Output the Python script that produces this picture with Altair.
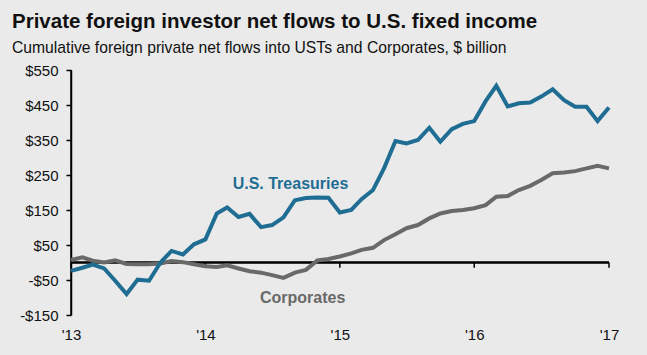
import altair as alt
import pandas as pd

# ---- data ----
months = [d.strftime("%Y-%m-%dT00:00:00") for d in pd.date_range("2013-01-01", periods=49, freq="MS")]
treasuries = [-24, -15, -6, -17, -52, -90, -49, -52, 0, 33, 23, 52, 66, 140, 157, 130, 139, 101, 107, 129,
              178, 184, 186, 185, 143, 150, 181, 207, 269, 347, 340, 350, 385, 345, 381, 396, 404, 461,
              505, 446, 455, 457, 474, 495, 464, 445, 445, 404, 443]
corporates = [7, 15, 5, 0, 6, -4, -5, -5, -3, 4, 1, -5, -11, -13, -8, -17, -25, -29, -36, -44, -29, -21,
              6, 10, 17, 26, 36, 42, 64, 81, 98, 107, 126, 140, 147, 150, 155, 164, 188, 190, 207, 219,
              236, 255, 257, 261, 269, 276, 269]
series_names = ["U.S. Treasuries", "Corporates"]
year_ticks = ["2013-01-01T00:00:00", "2014-01-01T00:00:00", "2015-01-01T00:00:00",
              "2016-01-01T00:00:00", "2017-01-01T00:00:00"]
y_ticks = [-150, -50, 50, 150, 250, 350, 450, 550]
label_text = ["U.S. Treasuries", "Corporates"]
label_date = ["2014-08-20T00:00:00", "2014-09-22T00:00:00"]
label_value = [224, -101]
title_text = "Private foreign investor net flows to U.S. fixed income"
subtitle_text = "Cumulative foreign private net flows into USTs and Corporates, $ billion"

FONT = "Liberation Sans"
BLUE = "#1f6d93"
GRAY = "#696969"

df_t = pd.DataFrame({"date": months, "value": treasuries, "series": series_names[0]})
df_c = pd.DataFrame({"date": months, "value": corporates, "series": series_names[1]})
df_ticks = pd.DataFrame({"date": year_ticks})
df_labels = pd.DataFrame({"date": label_date, "value": label_value, "text": label_text})

x_scale = alt.Scale(domain=[alt.DateTime(year=2013, month=1, date=1),
                            alt.DateTime(year=2017, month=1, date=1)], nice=False)
y_scale = alt.Scale(domain=[-150, 550], nice=False, zero=False)
color_scale = alt.Scale(domain=series_names, range=[BLUE, GRAY])

x_axis = alt.Axis(title=None, domain=False, ticks=False, grid=False,
                  values=[alt.DateTime(year=y, month=1, date=1) for y in range(2013, 2018)],
                  labelExpr="\"'\" + timeFormat(datum.value, '%y')",
                  labelFontSize=15, labelFont=FONT, labelColor="#111111",
                  labelPadding=12, labelFlush=False, labelOverlap=False)
y_axis = alt.Axis(title=None, values=y_ticks, grid=False, domain=True, ticks=True,
                  labelExpr="datum.value < 0 ? '-$' + abs(datum.value) : '$' + datum.value",
                  labelFontSize=15, labelFont=FONT, labelColor="#111111",
                  labelOverlap=False, labelFlush=False,
                  domainColor="#000000", domainWidth=1.5, domainOpacity=1,
                  tickColor="#000000", tickOpacity=1,
                  tickWidth=1.5, tickSize=5, labelPadding=8)

x_enc = alt.X("date:T", scale=x_scale, axis=x_axis)
y_enc = alt.Y("value:Q", scale=y_scale, axis=y_axis)

y_axis_line = alt.Chart(df_ticks.head(1)).mark_rule(color="#000000", strokeWidth=1.5).encode(
    x=x_enc)
zero_line = alt.Chart(df_ticks).mark_rule(color="#000000", strokeWidth=1.5).encode(
    y=alt.datum(0, scale=y_scale, axis=y_axis))
year_tick_marks = alt.Chart(df_ticks).mark_rule(color="#000000", strokeWidth=1.5).encode(
    x=x_enc, y=alt.datum(0, scale=y_scale, axis=y_axis), y2=alt.datum(-15))

line_c = alt.Chart(df_c).mark_line(strokeWidth=4, strokeJoin="miter").encode(
    x=x_enc, y=y_enc, color=alt.Color("series:N", scale=color_scale, legend=None))
line_t = alt.Chart(df_t).mark_line(strokeWidth=4, strokeJoin="miter").encode(
    x=x_enc, y=y_enc, color=alt.Color("series:N", scale=color_scale, legend=None))

labels = alt.Chart(df_labels).mark_text(font=FONT, fontWeight="bold", fontSize=16,
                                        align="center", baseline="middle").encode(
    x=x_enc, y=y_enc, text="text:N",
    color=alt.Color("text:N", scale=color_scale, legend=None))

title = alt.Chart(pd.DataFrame({"t": [title_text]})).mark_text(
    font=FONT, fontWeight="bold", fontSize=20.5, align="left", baseline="alphabetic",
    color="#111111").encode(text="t:N", x=alt.value(-59), y=alt.value(-42))
subtitle = alt.Chart(pd.DataFrame({"t": [subtitle_text]})).mark_text(
    font=FONT, fontSize=15.7, align="left", baseline="alphabetic",
    color="#111111").encode(text="t:N", x=alt.value(-59), y=alt.value(-17.5))

chart = alt.layer(y_axis_line, zero_line, year_tick_marks, line_c, line_t, labels, title, subtitle).properties(
    width=538, height=245,
    autosize=alt.AutoSizeParams(type="none"),
    padding={"left": 71, "top": 70, "right": 38, "bottom": 40},
    background="#eaeaea",
).configure_view(stroke=None).configure_axisY(
    domain=True, domainColor="#000000", domainWidth=1.5, ticks=True,
    tickColor="#000000", tickWidth=1.5, tickSize=5)

chart.save("out.html", embed_options={"renderer": "svg", "actions": False})
